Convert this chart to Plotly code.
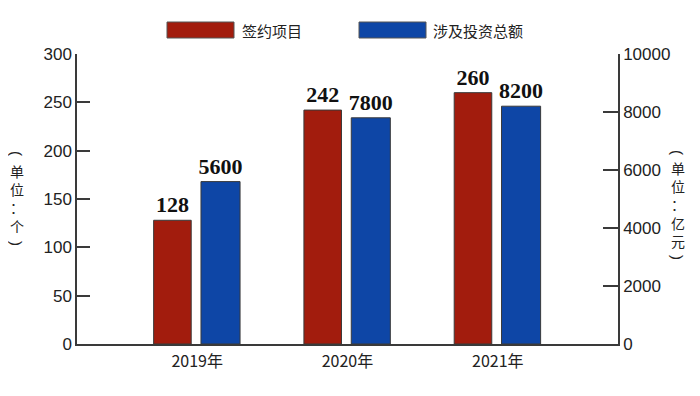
import plotly.graph_objects as go

# ---- data ----
categories = ["2019年", "2020年", "2021年"]
projects = [128, 242, 260]          # 签约项目 (个)
investment = [5600, 7800, 8200]     # 涉及投资总额 (亿元)
series_names = ["签约项目", "涉及投资总额"]
left_ticks = [0, 50, 100, 150, 200, 250, 300]
right_ticks = [0, 2000, 4000, 6000, 8000, 10000]
left_unit = ["单", "位", "：", "个"]
right_unit = ["单", "位", "：", "亿", "元"]

RED = "#A21C0D"
BLUE = "#0E46A6"
EDGE = "#3a3a3a"
AX = "#3a3a3a"
TXT = "#222222"

# page is rendered with an 8px body margin -> figure is 8px smaller on each axis
OFF = 8
PAGE_W, PAGE_H = 700, 396
W, H = PAGE_W - OFF, PAGE_H - OFF
# plot area in page pixels
L, R, T, B = 77, 618, 54, 344

def px(x):
    return (x - L) / (R - L)

def py(y):
    return (B - y) / (B - T)

label_font = dict(family="Liberation Serif", size=22, color="#111111", weight="bold")

fig = go.Figure()
fig.add_trace(go.Bar(
    x=categories, y=projects, name=series_names[0],
    marker=dict(color=RED, line=dict(color=EDGE, width=1)),
    width=0.25, offset=-0.29,
    texttemplate="%{y}", textposition="outside", textfont=label_font,
    constraintext="none", cliponaxis=False, yaxis="y", showlegend=False,
))
fig.add_trace(go.Bar(
    x=categories, y=investment, name=series_names[1],
    marker=dict(color=BLUE, line=dict(color=EDGE, width=1)),
    width=0.26, offset=0.025,
    texttemplate="%{y}", textposition="outside", textfont=label_font,
    constraintext="none", cliponaxis=False, yaxis="y2", showlegend=False,
))

shapes = []
annotations = []
cjk = "Noto Sans CJK SC"
# legend
leg = [(167, 234, 240, RED, series_names[0]), (359, 426, 431, BLUE, series_names[1])]
for x0, x1, tx, col, name in leg:
    shapes.append(dict(type="rect", xref="paper", yref="paper",
                       x0=px(x0), x1=px(x1), y0=py(38), y1=py(22),
                       fillcolor=col, line=dict(color="#555555", width=1)))
    annotations.append(dict(xref="paper", yref="paper", x=px(tx), y=py(30),
                            xanchor="left", yanchor="middle", showarrow=False,
                            text=name, font=dict(family=cjk, size=15, color=TXT)))

# vertical axis titles (stacked characters, rotated parentheses)
def vtitle(xc, ytop, ybot, ymid, chars):
    annotations.append(dict(xref="paper", yref="paper", x=px(xc), y=py(ymid),
                            xanchor="center", yanchor="middle", showarrow=False,
                            text="<br>".join(chars),
                            font=dict(family=cjk, size=14, color=TXT)))
    for s, yy in (("(", ytop), (")", ybot)):
        annotations.append(dict(xref="paper", yref="paper", x=px(xc), y=py(yy),
                                xanchor="center", yanchor="middle", showarrow=False,
                                text=s, textangle=90,
                                font=dict(family="Liberation Sans", size=15, color=TXT)))

vtitle(17, 153, 243, 198, left_unit)
vtitle(678, 152, 257, 204.5, right_unit)

fig.update_layout(
    width=W, height=H,
    margin=dict(l=L - OFF, r=W - (R - OFF), t=T - OFF, b=H - (B - OFF), pad=0, autoexpand=False),
    paper_bgcolor="white", plot_bgcolor="white",
    barmode="overlay",
    shapes=shapes, annotations=annotations,
    xaxis=dict(type="category", range=[-0.8, 2.8], showline=True, linecolor=AX, linewidth=1.5,
               ticks="", showgrid=False, zeroline=False,
               tickfont=dict(family=cjk, size=16, color=TXT),
               ticklabelstandoff=2),
    yaxis=dict(range=[0, 300], tickvals=left_ticks, ticktext=[str(v) for v in left_ticks],
               showline=True, linecolor=AX, linewidth=1.5,
               ticks="inside", ticklen=13, tickwidth=1.5, tickcolor=AX,
               showgrid=False, zeroline=False,
               tickfont=dict(family="Liberation Sans", size=17, color=TXT)),
    yaxis2=dict(range=[0, 10000], tickvals=right_ticks, ticktext=[str(v) for v in right_ticks],
                overlaying="y", side="right",
                showline=True, linecolor=AX, linewidth=1.5,
                ticks="inside", ticklen=15, tickwidth=1.5, tickcolor=AX,
                showgrid=False, zeroline=False,
                tickfont=dict(family="Liberation Sans", size=17, color=TXT)),
)

fig.write_html("out.html")
